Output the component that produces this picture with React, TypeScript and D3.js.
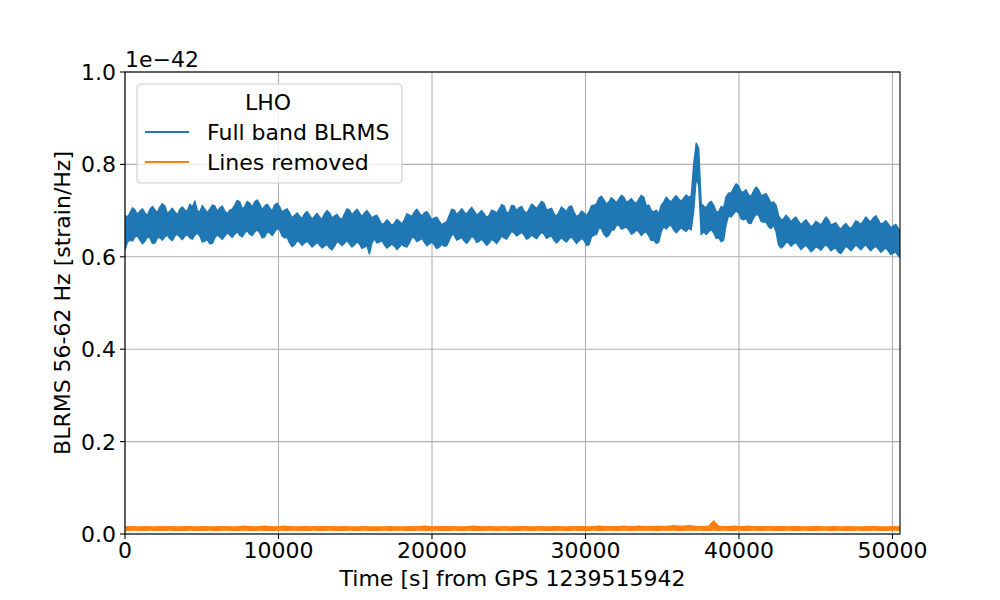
import { area, scaleLinear } from 'd3'

// seconds from GPS 1239515942
const fullStep = 162.5
const cleanStep = 325
const xMax = 50490

// Full band BLRMS, upper / lower envelope, units of 1e-45 (thousandths of 1e-42)
const fullHigh = [
  690, 686, 695, 706, 701, 692, 699, 704, 695, 690, 703, 709, 701, 696, 708, 715, 710, 693, 699, 705,
  697, 691, 703, 708, 701, 699, 714, 708, 721, 700, 697, 711, 703, 695, 703, 712, 710, 699, 706, 710,
  699, 693, 701, 703, 712, 722, 719, 704, 708, 720, 716, 707, 719, 723, 714, 702, 710, 714, 706, 699,
  712, 716, 708, 697, 701, 704, 695, 684, 690, 695, 688, 683, 693, 698, 690, 681, 688, 694, 686, 681,
  693, 700, 695, 684, 688, 692, 684, 681, 693, 704, 701, 691, 697, 703, 695, 687, 695, 700, 693, 684,
  688, 690, 680, 670, 673, 680, 675, 667, 673, 681, 677, 671, 680, 693, 690, 687, 697, 703, 695, 688,
  695, 698, 690, 680, 684, 686, 677, 669, 673, 676, 690, 703, 701, 692, 697, 704, 697, 692, 701, 707,
  699, 690, 695, 700, 693, 685, 690, 701, 699, 694, 703, 713, 710, 695, 697, 711, 710, 700, 706, 709,
  699, 694, 703, 714, 710, 704, 712, 720, 716, 701, 703, 705, 693, 688, 697, 708, 703, 698, 708, 710,
  697, 687, 690, 699, 695, 689, 697, 710, 712, 714, 727, 731, 723, 714, 719, 728, 723, 717, 725, 733,
  729, 718, 721, 726, 719, 715, 725, 733, 729, 710, 712, 700, 697, 701, 693, 712, 719, 729, 723, 719,
  727, 732, 725, 720, 727, 734, 729, 731, 800, 846, 835, 715, 710, 706, 716, 720, 712, 698, 697, 709,
  706, 730, 738, 738, 749, 758, 753, 741, 740, 745, 734, 731, 742, 751, 745, 733, 734, 737, 727, 716,
  719, 712, 690, 680, 682, 690, 684, 676, 682, 686, 677, 670, 675, 680, 673, 665, 669, 677, 673, 669,
  677, 686, 680, 669, 671, 674, 665, 660, 667, 672, 665, 661, 669, 678, 675, 670, 677, 686, 680, 676,
  684, 689, 680, 671, 673, 678, 671, 663, 667, 670, 662, 656, 662,
]
const fullLow = [
  615, 632, 636, 634, 643, 645, 636, 628, 634, 643, 641, 629, 630, 641, 641, 636, 643, 647, 639, 635,
  645, 649, 643, 637, 645, 648, 641, 638, 647, 651, 645, 632, 634, 637, 628, 629, 641, 647, 643, 638,
  645, 652, 647, 642, 649, 654, 647, 643, 652, 656, 649, 646, 654, 658, 652, 641, 643, 654, 652, 646,
  654, 661, 658, 645, 641, 642, 630, 622, 626, 635, 632, 625, 630, 634, 628, 621, 626, 631, 626, 619,
  623, 627, 619, 615, 623, 633, 630, 624, 630, 635, 628, 621, 626, 632, 628, 618, 621, 624, 606, 630,
  639, 630, 632, 635, 626, 619, 623, 628, 623, 616, 621, 627, 623, 621, 630, 642, 641, 633, 636, 640,
  632, 624, 628, 632, 626, 618, 621, 627, 623, 624, 636, 648, 647, 636, 639, 642, 634, 629, 636, 644,
  641, 631, 634, 638, 632, 625, 630, 638, 634, 629, 636, 645, 641, 638, 647, 655, 652, 645, 649, 653,
  647, 638, 641, 647, 643, 639, 647, 653, 649, 640, 643, 645, 636, 630, 636, 641, 636, 632, 639, 643,
  636, 629, 634, 640, 636, 625, 626, 643, 647, 648, 662, 661, 649, 643, 647, 658, 658, 668, 669, 660,
  662, 665, 658, 649, 652, 658, 654, 646, 652, 654, 645, 635, 636, 629, 632, 655, 665, 660, 667, 668,
  658, 652, 658, 663, 658, 655, 662, 658, 700, 770, 755, 648, 654, 648, 654, 659, 652, 640, 641, 633,
  636, 670, 690, 686, 693, 699, 695, 682, 680, 683, 673, 672, 684, 692, 690, 677, 675, 675, 665, 661,
  669, 655, 626, 619, 623, 632, 630, 623, 628, 631, 623, 616, 621, 625, 619, 611, 615, 622, 619, 614,
  621, 626, 621, 613, 617, 619, 610, 607, 615, 623, 619, 613, 619, 626, 621, 615, 621, 626, 619, 613,
  619, 623, 617, 610, 615, 619, 613, 605, 608, 610, 602, 598, 602,
]

// Lines removed, upper / lower envelope, same units
const cleanHigh = [
  15, 16, 15, 15, 16, 15, 15, 16, 15, 16, 15, 15, 16, 16, 15, 15, 16, 15, 15, 16,
  16, 15, 15, 16, 17, 16, 15, 16, 17, 16, 15, 16, 17, 16, 15, 15, 16, 15, 16, 15,
  16, 16, 15, 15, 16, 15, 15, 15, 16, 15, 15, 15, 15, 16, 15, 15, 15, 16, 15, 16,
  17, 16, 15, 16, 16, 15, 16, 15, 15, 16, 17, 16, 15, 16, 15, 15, 16, 15, 15, 16,
  16, 15, 15, 16, 15, 15, 16, 16, 15, 15, 16, 16, 16, 15, 16, 17, 16, 16, 16, 16,
  17, 16, 16, 17, 16, 16, 16, 17, 16, 17, 18, 17, 17, 18, 17, 16, 16, 17, 28, 17,
  16, 16, 17, 16, 16, 17, 16, 16, 16, 16, 15, 16, 16, 15, 16, 16, 15, 15, 16, 16,
  15, 15, 16, 15, 15, 16, 15, 15, 15, 16, 16, 15, 15, 15, 16, 15, 15,
]
const cleanLow = [
  8, 8, 9, 8, 8, 9, 8, 8, 8, 9, 8, 8, 8, 9, 8, 8, 8, 9, 8, 8,
  9, 8, 8, 8, 9, 8, 8, 9, 8, 8, 8, 9, 8, 8, 9, 8, 8, 8, 9, 8,
  8, 9, 8, 8, 8, 9, 8, 8, 9, 8, 8, 8, 9, 8, 8, 9, 8, 8, 8, 9,
  8, 8, 9, 8, 8, 8, 9, 8, 8, 9, 8, 8, 8, 9, 8, 8, 9, 8, 8, 8,
  9, 8, 8, 9, 8, 8, 8, 9, 8, 8, 9, 8, 8, 8, 9, 8, 8, 9, 8, 8,
  9, 8, 8, 9, 8, 9, 8, 8, 9, 8, 9, 8, 8, 9, 8, 9, 8, 8, 9, 8,
  9, 8, 8, 9, 8, 8, 9, 8, 8, 9, 8, 8, 8, 9, 8, 8, 9, 8, 8, 8,
  9, 8, 8, 9, 8, 8, 8, 9, 8, 8, 9, 8, 8, 8, 9, 8, 8,
]

const xTicks = [0, 10000, 20000, 30000, 40000, 50000]
const yTicks = [0, 0.2, 0.4, 0.6, 0.8, 1.0]

const blue = '#1f77b4'
const orange = '#ff7f0e'
const font = 'DejaVu Sans, sans-serif'

type Row = { t: number; h: number; l: number }

function Band({ high, low, step, color, x, y }: {
  high: number[]
  low: number[]
  step: number
  color: string
  x: (v: number) => number
  y: (v: number) => number
}) {
  const rows: Row[] = high.map((h, i) => ({ t: i * step, h: h / 1000, l: low[i] / 1000 }))
  const path = area<Row>()
    .x((d) => x(d.t))
    .y0((d) => y(d.l))
    .y1((d) => y(d.h))(rows)
  return <path d={path ?? ''} fill={color} stroke={color} strokeWidth="1.4" strokeLinejoin="round" />
}

export default function App() {
  const width = 1000
  const height = 600
  const left = 125
  const right = 900
  const top = 72
  const bottom = 534
  const x = scaleLinear().domain([0, xMax]).range([left, right])
  const y = scaleLinear().domain([0, 1]).range([bottom, top])

  return (
    <div style={{ position: 'absolute', left: 0, top: 0 }}>
      <svg width={width} height={height} viewBox={`0 0 ${width} ${height}`} fontFamily={font}>
        <rect width={width} height={height} fill="#ffffff" />
        <defs>
          <clipPath id="plot">
            <rect x={left} y={top} width={right - left} height={bottom - top} />
          </clipPath>
        </defs>
        {xTicks.map((t) => (
          <line key={`gx${t}`} x1={x(t)} x2={x(t)} y1={top} y2={bottom} stroke="#b0b0b0" strokeWidth="1.1" />
        ))}
        {yTicks.map((t) => (
          <line key={`gy${t}`} x1={left} x2={right} y1={y(t)} y2={y(t)} stroke="#b0b0b0" strokeWidth="1.1" />
        ))}
        <g clipPath="url(#plot)">
          <Band high={fullHigh} low={fullLow} step={fullStep} color={blue} x={x} y={y} />
          <Band high={cleanHigh} low={cleanLow} step={cleanStep} color={orange} x={x} y={y} />
        </g>
        <rect x={left} y={top} width={right - left} height={bottom - top} fill="none" stroke="#000" strokeWidth="1.1" />
        {xTicks.map((t) => (
          <g key={`tx${t}`}>
            <line x1={x(t)} x2={x(t)} y1={bottom} y2={bottom + 5} stroke="#000" strokeWidth="1.1" />
            <text x={x(t)} y={bottom + 24} fontSize="22" textAnchor="middle" fill="#000">{t}</text>
          </g>
        ))}
        {yTicks.map((t) => (
          <g key={`ty${t}`}>
            <line x1={left - 5} x2={left} y1={y(t)} y2={y(t)} stroke="#000" strokeWidth="1.1" />
            <text x={left - 9} y={y(t) + 8} fontSize="22" textAnchor="end" fill="#000">{t.toFixed(1)}</text>
          </g>
        ))}
        <text x={left} y={top - 5} fontSize="22" fill="#000">1e−42</text>
        <text x={(left + right) / 2} y={586} fontSize="22" textAnchor="middle" fill="#000">Time [s] from GPS 1239515942</text>
        <text transform={`translate(70, ${(top + bottom) / 2}) rotate(-90)`} fontSize="22" textAnchor="middle" fill="#000">
          BLRMS 56-62 Hz [strain/Hz]
        </text>
        <g>
          <rect x={137} y={84} width={265} height={99} rx="4" fill="#ffffff" fillOpacity="0.8" stroke="#cccccc" strokeWidth="1.1" />
          <text x={268} y={110} fontSize="22" textAnchor="middle" fill="#000">LHO</text>
          <line x1={145} x2={189} y1={132} y2={132} stroke={blue} strokeWidth="2.1" />
          <text x={207} y={140} fontSize="22" fill="#000">Full band BLRMS</text>
          <line x1={145} x2={189} y1={162} y2={162} stroke={orange} strokeWidth="2.1" />
          <text x={207} y={170} fontSize="22" fill="#000">Lines removed</text>
        </g>
      </svg>
    </div>
  )
}
